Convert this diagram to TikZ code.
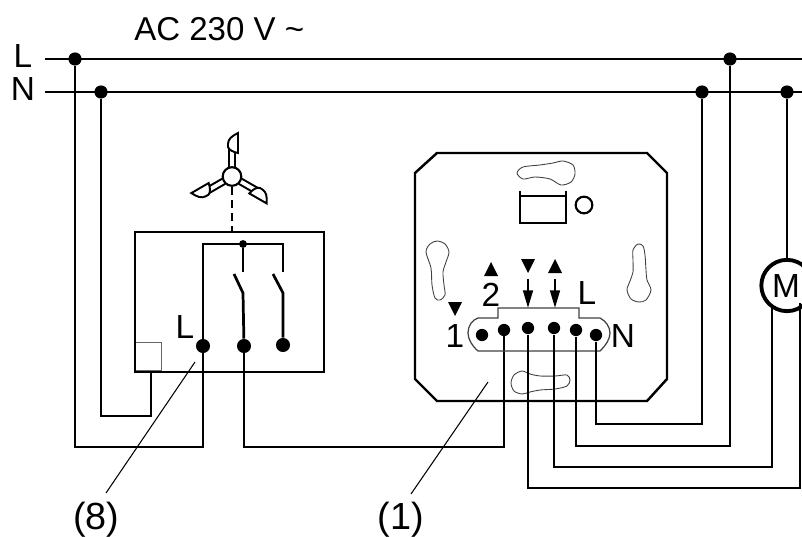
\documentclass[tikz,border=0pt]{standalone}
\usepackage{fontspec}
\setmainfont{Liberation Sans}
\usetikzlibrary{arrows.meta}
\tikzset{
  wire/.style={line width=1.55pt},
  slot/.style={line width=0.5pt,black!75},
  leader/.style={line width=0.6pt},
  bigdot/.style={circle,fill=black,inner sep=0pt,minimum size=7.5pt},
  termdot/.style={circle,fill=black,inner sep=0pt,minimum size=8pt},
  pindot/.style={circle,fill=black,inner sep=0pt,minimum size=7pt},
  smalldot/.style={circle,fill=black,inner sep=0pt,minimum size=4.5pt},
  label/.style={inner sep=0pt,font=\fontsize{19}{19}\selectfont},
  callout/.style={inner sep=0pt,anchor=base,font=\fontsize{21.5}{22}\selectfont},
}
\begin{document}
\begin{tikzpicture}[x=0.02cm,y=-0.02cm]
\useasboundingbox (0,0) rectangle (802,537);
\begin{scope}
\clip (0,0) rectangle (802,537);
% mains
\node[label,anchor=west,font=\fontsize{18.8}{19}\selectfont] (title) at (134,29) {AC 230 V \textasciitilde};
\node[label] (labelL) at (23,56) {L};
\node[label] (labelN) at (23,89) {N};
\coordinate (Lstart) at (45,59);
\coordinate (Nstart) at (45,92);
\coordinate (Lend) at (802,59);
\coordinate (Nend) at (802,92);
\draw[wire] (Lstart) -- (Lend);
\draw[wire] (Nstart) -- (Nend);
\node[bigdot] (dotLa) at (75,59) {};
\node[bigdot] (dotNa) at (101,92) {};
\node[bigdot] (dotNb) at (702,92) {};
\node[bigdot] (dotLb) at (730,59) {};
\node[bigdot] (dotNc) at (787,92) {};
% fan
\foreach \ang in {0,120,240}{
  \begin{scope}[rotate around={-\ang:(232,176.5)}]
  \draw[line width=1.1pt] (229,167) -- (229,145);
  \draw[line width=1.1pt] (235,167) -- (235,152);
  \draw[line width=1.1pt,fill=white] (238,133) .. controls (232,136) and (228,139) .. (228,144) -- (228,147) .. controls (229,150) and (233,152) .. (238,153) -- cycle;
  \end{scope}
}
\node[circle,draw,line width=1.2pt,fill=white,inner sep=0pt,minimum size=10.6pt] (hub) at (232,176.5) {};
\coordinate (fanfoot) at (232,231);
\draw[line width=1.2pt,dash pattern=on 4.5pt off 3pt] (hub) -- (fanfoot);
% dimmer box
\node[draw=black!60,line width=0.7pt,inner sep=0pt,minimum width=15.3pt,minimum height=15.8pt,anchor=south west] (corner) at (134,371) {};
\node[draw,line width=1.25pt,inner sep=0pt,minimum width=107.5pt,minimum height=79.7pt,anchor=north west] (box) at (134,231) {};
\node[termdot] (termA) at (203,346) {};
\node[termdot] (termB) at (244,346) {};
\node[termdot] (termC) at (283,345) {};
\node[smalldot] (rail) at (243,244) {};
\node[label] (labelLb) at (185,327) {L};
\coordinate (railL) at (203,244);
\coordinate (railR) at (283,244);
\coordinate (contA) at (243,272);
\coordinate (contB) at (283,272);
\draw[wire] (termA) -- (railL) -- (railR) -- (contB);
\draw[wire] (rail) -- (contA);
\draw[wire] (234,274) -- (243,293) -- (termB);
\draw[wire] (273,274) -- (283,293) -- (termC);
% feeds
\draw[wire] (dotLa) -- (75,447) -- (203,447) -- (termA);
\draw[wire] (dotNa) -- (101,416) -- (151,416) -- (151,371);
\draw[wire] (termB) -- (244,447) -- (504,447) -- (504,330);
% insert
\draw[line width=1.4pt] (437,153) -- (647,153) -- (667,173) -- (667,379) -- (647,401) -- (437,401) -- (415,379) -- (415,173) -- cycle;
\draw[slot] plot[smooth cycle] coordinates {(517,173) (523,167) (540,165) (553,163) (563,161) (573,165) (575,174) (571,182) (561,185) (550,179) (535,177) (523,179)};
\draw[slot] plot[smooth cycle] coordinates {(426,252) (430,244) (437,241) (445,244) (449,252) (446,262) (443,272) (444,285) (445,295) (440,300) (435,298) (432,285) (431,268)};
\draw[slot] plot[smooth cycle] coordinates {(633,250) (638,244) (643,246) (645,255) (646,270) (647,280) (651,290) (646,300) (639,302) (631,299) (627,290) (630,281) (633,272) (633,260)};
\draw[slot] plot[smooth cycle] coordinates {(511,383) (514,375) (522,371) (530,374) (540,376) (555,376) (567,375) (570,380) (567,386) (555,389) (540,390) (530,392) (522,394) (514,391)};
\draw[line width=1.3pt] (520,191) -- (520,223) -- (566,223) -- (566,191);
\draw[line width=1.3pt] (520,196) -- (566,196);
\node[circle,draw,line width=1.2pt,inner sep=0pt,minimum size=9.5pt] (led) at (584,205) {};
\draw[slot,line width=0.7pt] (478,351) -- (600,351) .. controls (606,345) and (610,339) .. (610,333) .. controls (610,327) and (606,321) .. (600,318) -- (579,318) -- (579,308) -- (498,308) -- (498,318) -- (478,318) .. controls (472,320) and (468,326) .. (468,333) .. controls (468,339) and (472,346) .. (478,351) -- cycle;
\node[pindot] (pinA) at (482,335) {};
\node[pindot] (pinB) at (504,330) {};
\node[pindot] (pinC) at (528,328) {};
\node[pindot] (pinD) at (554,328) {};
\node[pindot] (pinE) at (576,330) {};
\node[pindot] (pinF) at (596,335) {};
\node[label] (labelOne) at (455,336) {1};
\node[label] (labelTwo) at (491,295) {2};
\node[label] (labelLc) at (587,293) {L};
\node[label] (labelNb) at (623,336) {N};
\fill (448,302) -- (462,302) -- (455,316) -- cycle;
\fill (484,276) -- (498,276) -- (491,262) -- cycle;
\fill (521,259) -- (535,259) -- (528,273) -- cycle;
\fill (548,273) -- (562,273) -- (555,259) -- cycle;
\draw[line width=1.4pt,-{Triangle[length=10pt,width=5.5pt]}] (528,279) -- (528,308);
\draw[line width=1.4pt,-{Triangle[length=10pt,width=5.5pt]}] (555,279) -- (555,308);
% motor
\node[circle,draw,line width=2.2pt,inner sep=0pt,minimum size=29.2pt] (motor) at (787,285.5) {};
\node[label] (labelM) at (786,286) {M};
\draw[wire] (dotNc) -- (motor);
\draw[wire] (pinF) -- (596,424) -- (702,424) -- (dotNb);
\draw[wire] (pinE) -- (576,446) -- (730,446) -- (dotLb);
\draw[wire] (pinD) -- (554,467) -- (772,467) -- (772,308);
\draw[wire] (pinC) -- (528,488) -- (800,488) -- (800,303);
% callouts
\node[callout] (calloutA) at (96.5,529) {(8)};
\node[callout] (calloutB) at (401,529) {(1)};
\draw[leader] (195,362) -- (106,493);
\draw[leader] (488,382) -- (411,494);
\end{scope}
\end{tikzpicture}
\end{document}
